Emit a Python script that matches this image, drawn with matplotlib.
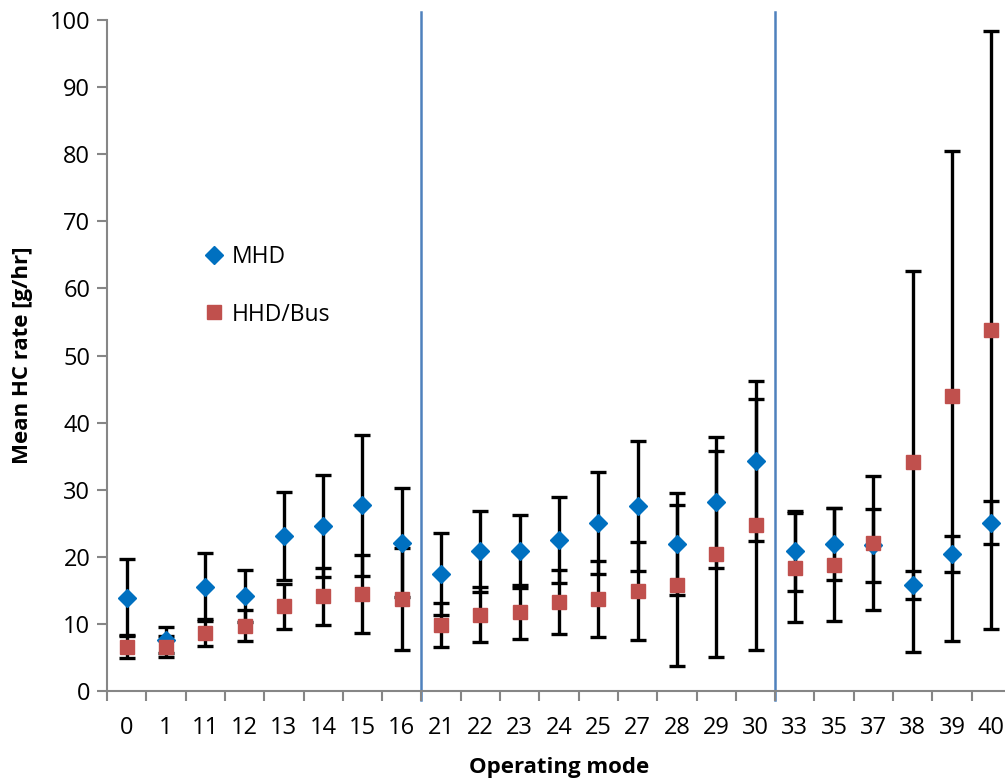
import numpy as np
import matplotlib.pyplot as plt

modes = ['0', '1', '11', '12', '13', '14', '15', '16', '21', '22', '23', '24',
         '25', '27', '28', '29', '30', '33', '35', '37', '38', '39', '40']

mhd_mean = [13.9, 7.6, 15.5, 14.2, 23.1, 24.6, 27.7, 22.1, 17.5, 20.8, 20.8, 22.5,
            25.0, 27.6, 21.9, 28.1, 34.3, 20.9, 21.9, 21.7, 15.8, 20.4, 25.1]
mhd_err = [5.7, 2.0, 5.1, 3.9, 6.5, 7.6, 10.5, 8.1, 6.1, 6.1, 5.5, 6.4,
           7.6, 9.7, 7.6, 9.7, 11.9, 6.0, 5.4, 5.4, 2.1, 2.7, 3.2]

hhd_mean = [6.6, 6.6, 8.7, 9.7, 12.6, 14.1, 14.5, 13.7, 9.8, 11.4, 11.8, 13.3,
            13.7, 14.9, 15.75, 20.4, 24.8, 18.4, 18.8, 22.0, 34.2, 44.0, 53.8]
hhd_err = [1.7, 1.6, 2.0, 2.3, 3.3, 4.2, 5.8, 7.6, 3.3, 4.15, 4.0, 4.75,
           5.7, 7.3, 11.95, 15.4, 18.7, 8.1, 8.4, 10.0, 28.4, 36.5, 44.6]

plt.rcParams['font.family'] = ['Open Sans', 'DejaVu Sans']

fig = plt.figure(figsize=(10.05, 7.82), dpi=100)
ax = fig.add_axes([107 / 1005, 1 - 691 / 782, 904 / 1005, 671 / 782])

x = np.arange(len(modes))
ax.errorbar(x, mhd_mean, yerr=mhd_err, fmt='none', ecolor='black', elinewidth=2.4,
            capsize=6, capthick=2.4, zorder=2)
ax.errorbar(x, hhd_mean, yerr=hhd_err, fmt='none', ecolor='black', elinewidth=2.4,
            capsize=6, capthick=2.4, zorder=2)
ax.plot(x, mhd_mean, 'D', color='#0070C0', markersize=9, linestyle='none',
        label='MHD', zorder=3)
ax.plot(x, hhd_mean, 's', color='#C0504D', markersize=10, linestyle='none',
        label='HHD/Bus', zorder=4)

# separators between mode groups
for b in [7.5, 16.5]:
    ax.plot([b, b], [-1.4, 101.2], color='#4F81BD', lw=1.8, clip_on=False, zorder=1)

ax.set_xlim(-0.5, len(modes) - 0.5)
ax.set_ylim(0, 100)
ax.set_yticks(range(0, 101, 10))
ax.set_xticks(x)
ax.set_xticklabels(modes)
ax.set_xticks(np.arange(-0.5, len(modes)), minor=True)
ax.tick_params(axis='x', which='major', length=0, pad=18, labelsize=17)
ax.tick_params(axis='x', which='minor', length=7, width=1.5, color='#868686')
ax.tick_params(axis='y', length=7, width=1.5, color='#868686', labelsize=17, pad=5)

for s in ['top', 'right']:
    ax.spines[s].set_visible(False)
for s in ['left', 'bottom']:
    ax.spines[s].set_color('#868686')
    ax.spines[s].set_linewidth(1.5)

ax.set_xlabel('Operating mode', fontsize=16, fontweight='bold', labelpad=12)
ax.set_ylabel('Mean HC rate [g/hr]', fontsize=16, fontweight='bold', labelpad=12)

ax.legend(loc='upper left', bbox_to_anchor=(0.08, 0.695), frameon=False, fontsize=16.5,
          handletextpad=0.2, labelspacing=1.45, handlelength=1.2)

fig.savefig('out.png', dpi=100)
